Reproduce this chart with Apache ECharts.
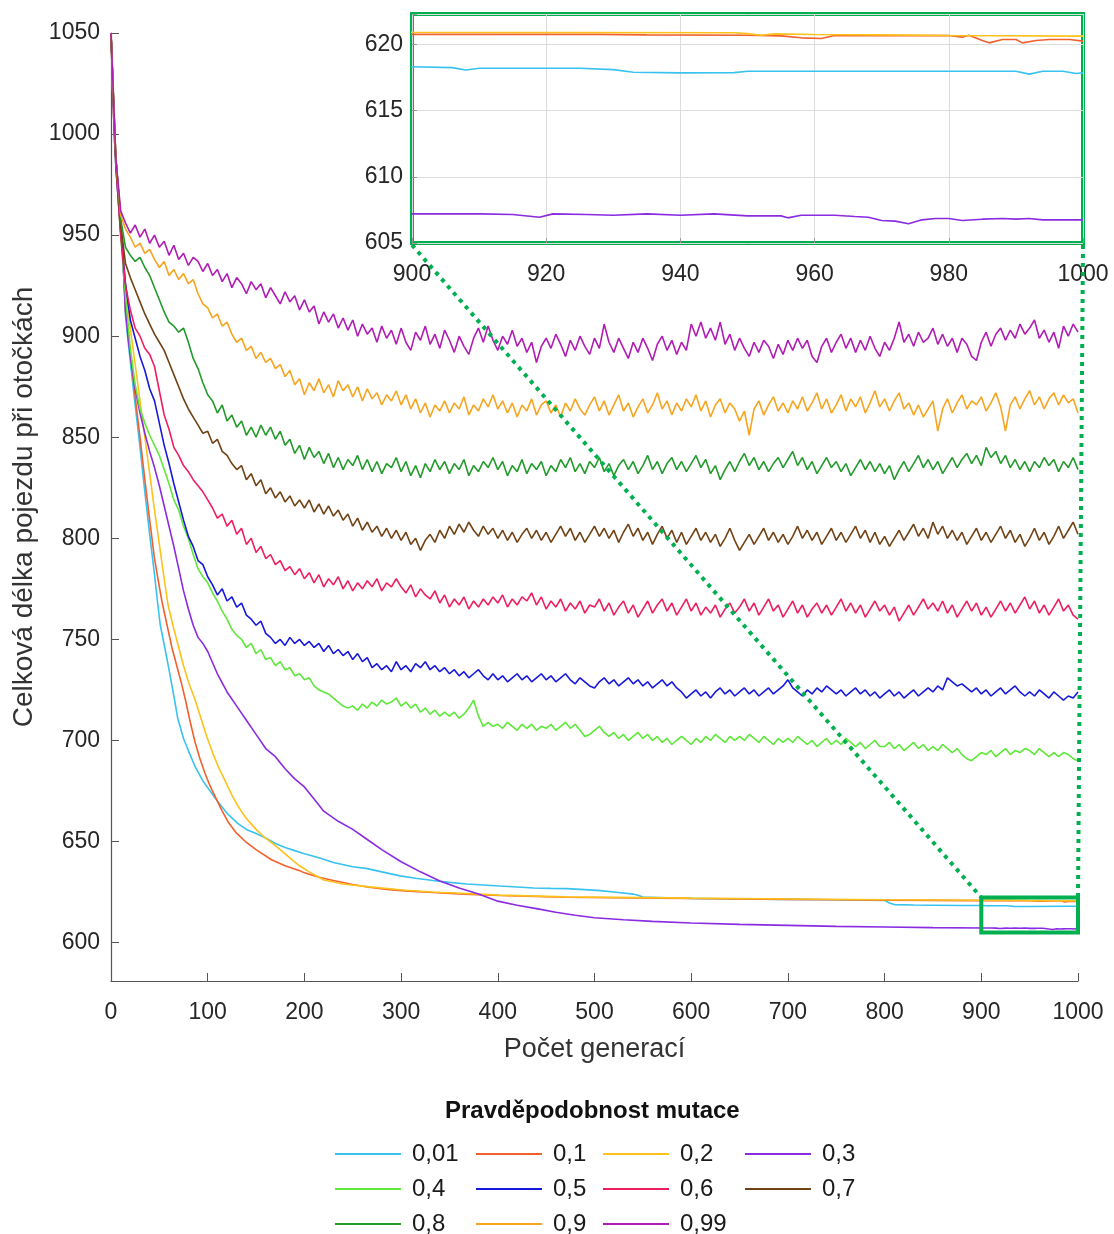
<!DOCTYPE html>
<html><head><meta charset="utf-8">
<script src="https://cdn.jsdelivr.net/npm/echarts@6/dist/echarts.min.js"></script>
<style>html,body{margin:0;padding:0;background:#fff}#c{width:1114px;height:1234px}</style>
</head><body><div id="c"></div>
<script>
// ---------- data ----------
const seriesNames = ['0,01','0,1','0,2','0,3','0,4','0,5','0,6','0,7','0,8','0,9','0,99'];
const seriesColors = ['#38c2f0','#f2602d','#fcc21b','#8a2be2','#5ee83a','#1818dd','#ee1f5f','#704214','#239a2c','#f7a520','#b01cb4'];
const yTickValues = [600,650,700,750,800,850,900,950,1000,1050];
const legendTitle = 'Pravděpodobnost mutace';
const xTitle = 'Počet generací';
const yTitle = 'Celková délka pojezdu při otočkách';

// smooth series: [generation, value]
const s001 = [[0,1050],[2,1018],[4,994],[6,982],[8,970],[10,960],[12,942],[15,910],[18,896],[21,883],[25,866],[30,845],[35,823],[40,802],[45,782],[48,769],[51,757],[56,745],[60,735],[65,722],[69,711],[75,701],[80,695],[87,687],[95,680],[104,674],[110,670],[120,664],[131,659],[140,656],[150,654],[159,652],[170,649],[180,647],[190,645.5],[200,644],[215,642],[230,639.6],[250,637.5],[265,636.6],[280,635],[299,633],[315,631.8],[333,630.7],[350,629.8],[368,629],[385,628.5],[402,628],[420,627.5],[437,627],[455,626.8],[471,626.7],[490,626.2],[506,625.7],[520,625],[540,624],[545,623.4],[550,622.5],[575,622.2],[600,621.9],[650,621.6],[700,621.4],[750,621.2],[800,620.9],[805,619.6],[810,618.8],[830,618.6],[850,618.5],[880,618.35],[900,618.32],[906,618.25],[908,618.07],[910,618.2],[925,618.2],[930,618.1],[933,617.9],[940,617.85],[948,617.87],[950,617.98],[990,617.98],[992,617.76],[994,617.98],[997,617.98],[999,617.8],[1000,617.85]];
const s01 = [[0,1050],[2,1018],[4,994],[6,982],[8,970],[10,959],[12,944],[15,912],[18,900],[21,887],[25,870],[30,850],[35,829],[40,809],[45,790],[50,776],[53,768],[58,757],[63,746],[68,737],[73,728],[77,720],[82,709],[87,699],[92,691],[97,684],[102,678],[108,672],[115,665],[122,659],[130,654],[139,650],[150,646],[166,641],[180,638],[195,635.6],[200,634.5],[215,632.3],[230,630.7],[250,628.7],[265,627.5],[285,626.3],[304,625.6],[333,624.8],[365,624],[402,623.3],[440,622.8],[471,622.4],[520,622.2],[565,622],[600,621.8],[650,621.6],[700,621.4],[750,621.2],[800,621],[850,620.9],[900,620.76],[928,620.76],[935,620.72],[950,620.7],[955,620.65],[958,620.5],[961,620.45],[963,620.67],[980,620.67],[982,620.55],[983,620.7],[985,620.3],[986,620.12],[988,620.37],[990,620.37],[991,620.12],[993,620.3],[995,620.37],[998,620.37],[1000,620.25]];
const s02 = [[0,1050],[2,1018],[4,994],[6,982],[8,970],[10,960],[12,946],[15,925],[18,912],[21,900],[25,886],[30,868],[35,850],[40,832],[45,814],[50,797],[55,780],[59,767],[64,757],[70,746],[75,737],[80,729],[87,720],[93,711],[99,702],[105,694],[111,687],[118,680],[125,673],[132,667],[139,662],[150,656],[159,652],[170,648],[187,641],[195,638],[205,635],[213,632.8],[220,631],[240,629],[265,627.7],[304,625.9],[333,625],[402,623.5],[471,622.6],[600,622],[700,621.6],[800,621.2],[900,620.92],[948,620.88],[950,620.82],[952,620.7],[954,620.8],[960,620.75],[970,620.72],[980,620.68],[1000,620.63]];
const s03 = [[0,1050],[2,1018],[4,994],[6,982],[8,970],[10,958],[12,940],[15,913],[18,898],[21,887],[25,874],[30,862],[35,852],[40,843],[45,835],[50,826],[55,816],[60,806],[65,796],[70,785],[75,774],[80,765],[85,757],[90,751],[95,748],[100,744],[110,733],[120,724],[130,717],[140,710],[150,703],[160,696],[170,692],[180,686],[190,681],[200,677],[210,671],[220,665],[235,660],[250,656],[265,651],[280,646],[300,640],[320,635],[340,630.5],[360,627],[380,624],[400,620.5],[420,618.5],[440,616.8],[460,615],[480,613.5],[500,612.3],[530,611.3],[560,610.5],[600,609.7],[650,609],[700,608.5],[750,608],[800,607.7],[850,607.4],[900,607.2],[905,607.2],[910,607.2],[915,607.15],[919,606.95],[921,607.2],[926,607.15],[930,607.1],[935,607.2],[940,607.1],[945,607.2],[950,607.05],[955,607.05],[956,606.9],[958,607.1],[963,607.1],[966,607.0],[968,606.95],[970,606.7],[972,606.65],[974,606.45],[976,606.75],[978,606.85],[980,606.85],[982,606.7],[985,606.8],[988,606.85],[990,606.8],[992,606.85],[994,606.75],[1000,606.75]];

// noisy series: one value every 5 generations (0,5,...,1000)
const genStep = 5;
const v04 = [1050,984,950,920,894,876,864,857,851,846, 841,834,827,819,814,806,800,792,785,781, 778,773,769,764,760,755,752,750,746,748, 743,745,740,741,737,739,735,736,732,733, 730,731,727,725,724,723,721,719,717,716, 717,715,718,716,719,717,720,718,719,721, 717,719,716,718,714,716,713,715,712,714, 712,714,711,713,716,720,712,707,709,707, 708,706,709,707,705,708,706,708,705,707, 706,708,705,707,709,706,708,705,702,703, 705,707,704,702,704,701,703,700,702,704, 701,703,700,702,699,701,698,700,702,700, 698,701,699,702,700,703,701,699,702,700, 702,700,703,701,699,702,700,698,701,699, 701,699,702,700,698,700,697,699,701,698, 700,698,701,699,697,699,696,698,700,697, 697,699,696,698,695,697,699,696,698,695, 697,695,698,696,694,696,693,691,690,692, 694,693,695,692,694,696,693,695,694,696, 695,693,696,694,692,694,692,694,693,691, 690];
const v05 = [1050,984,952,926,908,899,890,883,874,868, 857,846,837,827,818,809,801,796,789,787, 781,777,772,775,769,771,766,768,762,760, 757,759,753,751,748,750,747,751,748,750, 747,749,746,748,744,747,743,745,742,744, 740,743,739,741,736,738,735,737,734,739, 735,737,734,738,736,739,735,737,734,736, 733,735,732,734,731,733,735,732,730,733, 730,732,729,731,733,730,732,729,731,733, 730,732,729,731,733,730,728,731,729,727, 726,729,731,728,730,727,729,731,728,730, 727,729,726,728,730,727,729,726,724,721, 723,725,722,724,721,724,726,723,725,722, 724,726,723,725,722,724,726,723,725,727, 730,726,724,722,725,723,726,724,727,725, 723,725,722,724,726,723,725,722,724,721, 723,725,722,724,721,723,725,722,724,726, 724,727,725,731,729,727,728,726,724,726, 723,725,722,724,726,723,725,727,724,722, 724,722,725,723,721,724,722,720,722,721, 724];
const v06 = [1050,985,950,925,913,904,900,894,891,885, 873,861,854,845,841,836,833,829,826,823, 819,815,810,812,806,809,802,805,797,800, 793,796,790,792,787,789,784,786,782,785, 780,783,778,782,776,780,777,781,775,779, 774,778,775,779,776,780,774,778,776,780, 776,773,777,771,775,772,770,774,768,772, 766,770,767,771,765,769,766,770,767,771, 768,772,766,770,767,771,769,773,767,771, 765,769,766,770,764,768,765,769,763,767, 766,770,764,768,762,766,769,763,767,761, 765,769,763,767,770,764,768,762,766,770, 764,768,762,766,763,767,761,765,768,763, 766,770,764,768,762,766,770,764,767,761, 765,769,763,767,761,765,768,763,767,762, 766,770,764,768,763,767,761,765,769,764, 767,762,766,759,763,767,762,766,770,765, 768,764,769,763,767,761,765,769,764,768, 762,766,761,765,769,764,768,763,767,771, 765,769,763,767,762,766,770,764,767,762, 760];
const v07 = [1050,988,955,936,929,923,917,911,906,901, 897,893,887,881,875,869,864,860,856,852, 853,847,849,843,841,837,834,836,829,832, 826,829,822,825,820,823,818,821,816,819, 815,819,813,817,812,816,811,814,809,812, 806,810,804,808,803,806,801,805,800,804, 799,803,797,800,794,799,802,798,804,800, 806,802,807,803,808,804,801,806,802,805, 800,804,799,803,798,802,805,800,804,799, 803,798,802,806,801,805,799,803,798,802, 806,801,805,800,804,798,803,807,801,805, 799,803,797,802,806,800,804,798,803,797, 801,805,799,803,798,802,796,800,805,799, 794,798,802,797,801,805,799,803,798,802, 797,801,806,800,804,799,803,797,801,805, 799,803,798,802,806,800,804,798,803,797, 801,796,800,804,799,803,807,801,805,800, 808,802,806,800,804,799,803,797,801,805, 799,803,798,802,806,800,804,798,802,796, 800,805,799,803,797,801,806,800,804,808, 802];
const v08 = [1050,988,958,944,940,937,939,934,930,924, 918,912,907,905,902,904,897,889,884,877, 871,868,862,866,858,861,855,858,851,855, 850,856,851,855,849,853,846,849,842,846, 839,845,840,843,837,842,835,840,834,839, 836,841,834,839,833,838,832,837,835,840, 833,838,831,836,830,837,833,839,834,838, 832,837,834,839,831,836,833,838,835,840, 834,838,831,836,833,839,832,837,834,838, 831,836,833,839,835,840,833,837,832,838, 835,840,833,837,831,836,839,834,838,832, 836,841,834,838,832,837,840,834,838,833, 837,841,835,839,832,836,829,834,838,833, 838,842,836,840,834,838,833,837,840,835, 839,843,836,840,834,838,832,836,840,835, 838,833,837,831,835,839,834,838,833,837, 832,836,829,834,838,833,837,841,835,839, 834,838,832,836,840,835,839,842,837,841, 836,845,840,843,837,841,835,839,834,838, 833,838,835,840,836,839,833,838,835,840, 834];
const v09 = [1050,988,960,953,949,944,946,941,943,938, 934,937,930,933,928,931,926,928,921,916, 914,909,911,905,907,901,897,899,893,895, 889,892,887,889,884,886,880,883,876,879, 871,877,873,879,872,876,870,878,873,876, 870,875,868,874,869,872,866,871,868,873, 866,871,864,869,862,867,860,866,863,868, 862,867,864,870,861,866,863,869,865,871, 864,868,862,867,860,866,863,869,861,866, 868,862,866,860,867,863,869,864,861,866, 870,863,868,861,866,871,863,867,860,865, 869,862,866,872,864,868,861,867,863,869, 865,871,863,868,860,866,869,862,867,864, 858,863,851,864,868,861,866,870,863,867, 862,868,864,870,863,867,872,864,869,862, 866,871,863,869,865,870,862,867,873,865, 869,863,868,872,864,867,861,866,860,864, 868,853,864,869,862,867,871,864,868,866, 870,863,867,872,865,853,866,870,864,869, 873,866,870,864,869,872,866,871,867,869, 862];
const v099 = [1050,988,962,956,951,955,949,953,946,950, 944,947,940,945,938,941,935,939,937,932, 936,930,933,927,931,924,929,926,921,927, 923,926,919,924,920,916,922,917,920,913, 918,912,915,906,912,907,911,904,909,903, 908,900,906,901,904,897,905,899,903,896, 904,897,893,902,898,905,896,901,894,903, 898,892,900,895,891,899,904,897,905,898, 893,900,896,903,895,899,892,897,887,895, 899,894,901,896,890,898,893,900,895,891, 899,894,906,897,892,899,894,889,897,892, 899,894,888,896,900,893,898,891,897,893, 906,900,907,899,904,898,907,896,901,893, 899,894,890,897,892,898,895,889,896,891, 898,893,899,894,898,890,887,895,899,892, 897,901,894,899,892,898,893,900,894,890, 897,893,899,907,897,901,895,902,897,899, 904,896,901,895,899,892,899,896,890,888, 897,902,895,901,904,898,903,899,906,901, 904,908,899,903,897,902,894,905,900,906, 902];

const smoothData = [s001, s01, s02, s03];
const noisyData = [v04, v05, v06, v07, v08, v09, v099];
const inset = { xMin: 900, xMax: 1000, yMin: 605, yMax: 622.3 };

// ---------- chart ----------
const FONT = 'Liberation Sans, Arial, Helvetica, sans-serif';
const GREEN = '#00b050';
const chart = echarts.init(document.getElementById('c'), null, { renderer: 'canvas' });

const toPairs = vals => vals.map((v, i) => [i * genStep, v]);
const allData = smoothData.concat(noisyData.map(toPairs));

const series = [];
allData.forEach((d, i) => {
  series.push({
    type: 'line', name: seriesNames[i], data: d, xAxisIndex: 0, yAxisIndex: 0,
    symbol: 'none', showSymbol: false, color: seriesColors[i],
    lineStyle: { width: 1.6, color: seriesColors[i] }, animation: false, z: 3
  });
});
smoothData.forEach((d, i) => {
  series.push({
    type: 'line', name: seriesNames[i], data: d, xAxisIndex: 1, yAxisIndex: 1,
    symbol: 'none', showSymbol: false, color: seriesColors[i], clip: true,
    lineStyle: { width: 1.6, color: seriesColors[i] }, animation: false, z: 10
  });
});

const legendCols = [
  { left: 335, data: ['0,01','0,4','0,8'] },
  { left: 476, data: ['0,1','0,5','0,9'] },
  { left: 603, data: ['0,2','0,6','0,99'] },
  { left: 745, data: ['0,3','0,7'] }
];

const plain = v => String(v);
const axisLabelStyle = { fontFamily: FONT, fontSize: 23, color: '#262626' };

const option = {
  backgroundColor: '#fff',
  animation: false,
  grid: [
    { left: 111, top: 33, width: 967, height: 948 },
    { left: 412, top: 14, width: 671, height: 229, show: true, borderColor: GREEN, borderWidth: 4, backgroundColor: '#fff' }
  ],
  xAxis: [
    {
      gridIndex: 0, type: 'value', min: 0, max: 1000, interval: 100,
      name: xTitle, nameLocation: 'middle', nameGap: 55,
      nameTextStyle: { fontFamily: FONT, fontSize: 27, color: '#333' },
      axisLine: { show: true, lineStyle: { color: '#555', width: 1.2 } },
      axisTick: { show: true, inside: true, length: 8, lineStyle: { color: '#555' } },
      axisLabel: Object.assign({ margin: 20, formatter: plain }, axisLabelStyle),
      splitLine: { show: false }
    },
    {
      gridIndex: 1, type: 'value', min: inset.xMin, max: inset.xMax, interval: 20,
      axisLine: { show: false },
      axisTick: { show: true, inside: true, length: 5, lineStyle: { color: '#999' } },
      axisLabel: Object.assign({ margin: 20, formatter: plain }, axisLabelStyle),
      splitLine: { show: true, lineStyle: { color: '#dcdcdc', width: 1 } }
    }
  ],
  yAxis: [
    {
      gridIndex: 0, type: 'value', min: 581, max: 1050,
      name: yTitle, nameLocation: 'middle', nameGap: 64,
      nameTextStyle: { fontFamily: FONT, fontSize: 28, color: '#333' },
      axisLine: { show: true, lineStyle: { color: '#555', width: 1.2 } },
      axisTick: { show: true, inside: true, length: 8, lineStyle: { color: '#555' }, customValues: yTickValues },
      axisLabel: Object.assign({ margin: 11, customValues: yTickValues, formatter: plain }, axisLabelStyle),
      splitLine: { show: false }
    },
    {
      gridIndex: 1, type: 'value', min: inset.yMin, max: inset.yMax, interval: 5,
      axisLine: { show: false },
      axisTick: { show: true, inside: true, length: 5, lineStyle: { color: '#999' } },
      axisLabel: Object.assign({ margin: 9, formatter: v => (Math.abs(v % 5) < 1e-6 ? String(v) : '') }, axisLabelStyle),
      splitLine: { show: true, lineStyle: { color: '#dcdcdc', width: 1 } }
    }
  ],
  legend: legendCols.map(c => ({
    orient: 'vertical', left: c.left, top: 1142, data: c.data, padding: 0,
    icon: 'rect', itemWidth: 66, itemHeight: 2, itemGap: 11, height: 100,
    textStyle: { fontFamily: FONT, fontSize: 24, color: '#1a1a1a', padding: [0, 0, 0, 6] },
    selectedMode: false
  })),
  series: series
};
chart.setOption(option);

// inset connectors, computed from the axes
const rTL = chart.convertToPixel({ gridIndex: 0 }, [inset.xMin, inset.yMax]);
const rBR = chart.convertToPixel({ gridIndex: 0 }, [inset.xMax, inset.yMin]);
const iBL = chart.convertToPixel({ gridIndex: 1 }, [inset.xMin, inset.yMin]);
const iBR = chart.convertToPixel({ gridIndex: 1 }, [inset.xMax, inset.yMin]);
chart.setOption({
  graphic: [
    { type: 'rect', z: 20, shape: { x: rTL[0], y: rTL[1], width: rBR[0] - rTL[0], height: rBR[1] - rTL[1] },
      style: { fill: 'none', stroke: GREEN, lineWidth: 4 } },
    { type: 'line', z: 20, shape: { x1: iBL[0], y1: iBL[1] + 2, x2: rTL[0], y2: rTL[1] },
      style: { stroke: GREEN, lineWidth: 4, lineDash: [4, 5] } },
    { type: 'line', z: 20, shape: { x1: iBR[0], y1: iBR[1] + 2, x2: rBR[0], y2: rTL[1] },
      style: { stroke: GREEN, lineWidth: 4, lineDash: [4, 5] } },
    { type: 'text', z: 20, left: 595 - 150, top: 1099,
      style: { text: legendTitle, x: 0, y: 0, fontFamily: FONT, fontSize: 24, fontWeight: 'bold', fill: '#111', width: 300, align: 'center' } }
  ]
});
</script>
</body></html>
